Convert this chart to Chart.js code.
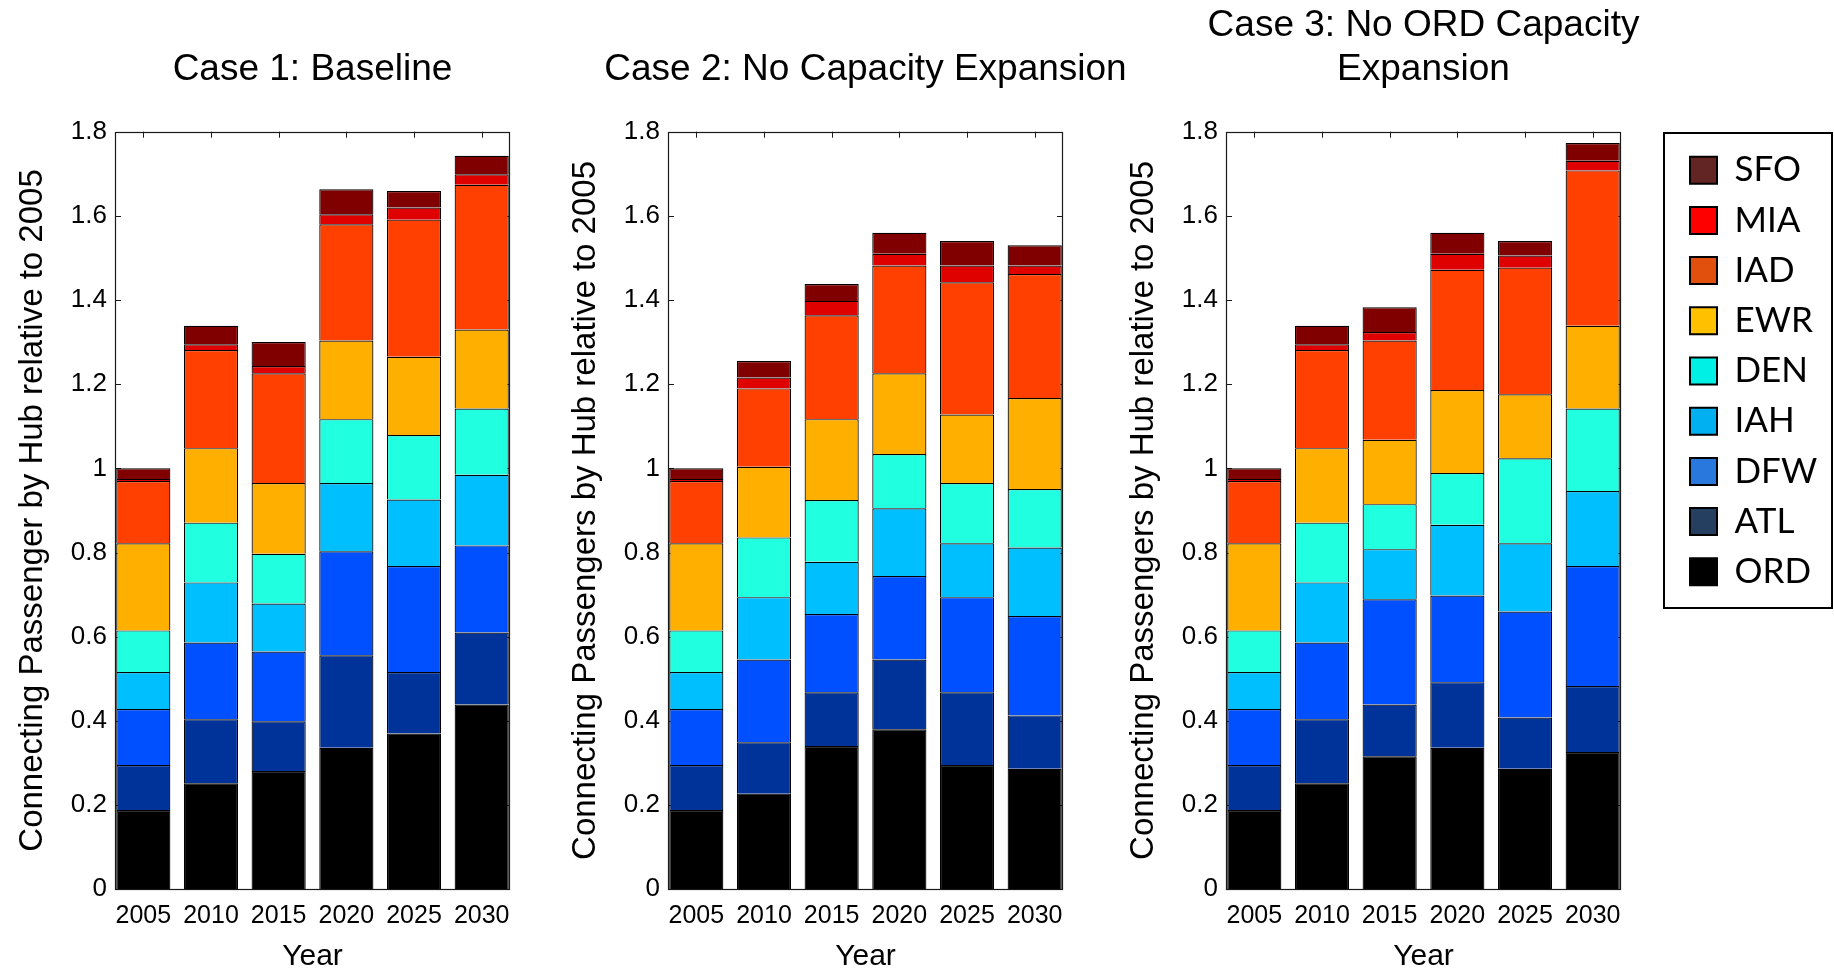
<!DOCTYPE html>
<html>
<head>
<meta charset="utf-8">
<title>Connecting passengers by hub</title>
<script src="https://cdn.jsdelivr.net/npm/chart.js@4.4.1/dist/chart.umd.min.js"></script>
<style>
  html, body { margin: 0; padding: 0; background: #fff; }
  body { width: 1834px; height: 970px; position: relative; overflow: hidden; }
  canvas { position: absolute; top: 0; }
</style>
</head>
<body>
<canvas id="case1" style="left:0px" width="625" height="970"></canvas>
<canvas id="case2" style="left:553px" width="625" height="970"></canvas>
<canvas id="case3" style="left:1111px" width="625" height="970"></canvas>
<canvas id="hubLegend" style="left:1663px; top:132px" width="170" height="477"></canvas>
<script>
// Categories and stack order (bottom to top)
const years = [2005, 2010, 2015, 2020, 2025, 2030];
const hubs = ['ORD', 'ATL', 'DFW', 'IAH', 'DEN', 'EWR', 'IAD', 'MIA', 'SFO'];

// Case 1: Baseline
const c1_ORD = [0.188, 0.252, 0.281, 0.336, 0.370, 0.439];
const c1_ATL = [0.107, 0.152, 0.118, 0.220, 0.146, 0.171];
const c1_DFW = [0.133, 0.182, 0.166, 0.247, 0.252, 0.207];
const c1_IAH = [0.088, 0.143, 0.114, 0.162, 0.158, 0.168];
const c1_DEN = [0.099, 0.142, 0.118, 0.152, 0.153, 0.157];
const c1_EWR = [0.207, 0.177, 0.168, 0.187, 0.186, 0.188];
const c1_IAD = [0.148, 0.233, 0.261, 0.276, 0.326, 0.344];
const c1_MIA = [0.005, 0.014, 0.017, 0.024, 0.029, 0.025];
const c1_SFO = [0.025, 0.044, 0.057, 0.059, 0.039, 0.044];

// Case 2: No capacity expansion
const c2_ORD = [0.188, 0.227, 0.340, 0.380, 0.295, 0.286];
const c2_ATL = [0.107, 0.122, 0.128, 0.166, 0.173, 0.127];
const c2_DFW = [0.133, 0.197, 0.186, 0.198, 0.226, 0.236];
const c2_IAH = [0.088, 0.148, 0.124, 0.161, 0.128, 0.163];
const c2_DEN = [0.099, 0.142, 0.147, 0.129, 0.143, 0.139];
const c2_EWR = [0.207, 0.168, 0.192, 0.192, 0.163, 0.216];
const c2_IAD = [0.148, 0.186, 0.247, 0.256, 0.314, 0.295];
const c2_MIA = [0.005, 0.026, 0.034, 0.028, 0.040, 0.020];
const c2_SFO = [0.025, 0.039, 0.040, 0.050, 0.058, 0.048];

// Case 3: No ORD capacity expansion
const c3_ORD = [0.188, 0.252, 0.316, 0.336, 0.286, 0.326];
const c3_ATL = [0.107, 0.152, 0.123, 0.156, 0.122, 0.157];
const c3_DFW = [0.133, 0.182, 0.250, 0.206, 0.252, 0.285];
const c3_IAH = [0.088, 0.143, 0.119, 0.168, 0.162, 0.178];
const c3_DEN = [0.099, 0.142, 0.107, 0.123, 0.202, 0.196];
const c3_EWR = [0.207, 0.177, 0.153, 0.197, 0.152, 0.197];
const c3_IAD = [0.148, 0.233, 0.236, 0.286, 0.301, 0.369];
const c3_MIA = [0.005, 0.014, 0.020, 0.038, 0.029, 0.023];
const c3_SFO = [0.025, 0.044, 0.059, 0.050, 0.034, 0.042];

const case1 = [c1_ORD, c1_ATL, c1_DFW, c1_IAH, c1_DEN, c1_EWR, c1_IAD, c1_MIA, c1_SFO];
const case2 = [c2_ORD, c2_ATL, c2_DFW, c2_IAH, c2_DEN, c2_EWR, c2_IAD, c2_MIA, c2_SFO];
const case3 = [c3_ORD, c3_ATL, c3_DFW, c3_IAH, c3_DEN, c3_EWR, c3_IAD, c3_MIA, c3_SFO];

// Bar fills and legend swatches
const barColors = ['#000000', '#00339A', '#0050FF', '#00BFFF', '#20FFDF', '#FFAF00', '#FF4000', '#DF0000', '#800000'];
const legendColors = ['#000000', '#243F60', '#2878DE', '#00B0F0', '#00F0E6', '#FFC000', '#E2500E', '#FF0000', '#632523'];

const panelTitles = ['Case 1: Baseline', 'Case 2: No Capacity Expansion', ['Case 3: No ORD Capacity', 'Expansion']];
const yTitles = ['Connecting Passenger by Hub relative to 2005',
                 'Connecting Passengers by Hub relative to 2005',
                 'Connecting Passengers by Hub relative to 2005'];

const FONT = 'Liberation Sans, Arial, sans-serif';

// Boxed axes with short inward tick marks on all four sides
const axesBox = {
  id: 'axesBox',
  beforeDatasetsDraw(chart) {
    const { ctx, chartArea: a, scales: { x, y } } = chart;
    const len = 6;
    ctx.save();
    ctx.strokeStyle = '#1a1a1a';
    ctx.lineWidth = 1;
    ctx.beginPath();
    y.ticks.forEach(t => {
      const py = Math.round(y.getPixelForValue(t.value)) + 0.5;
      ctx.moveTo(a.left, py); ctx.lineTo(a.left + len, py);
      ctx.moveTo(a.right - len, py); ctx.lineTo(a.right, py);
    });
    x.ticks.forEach(t => {
      const px = Math.round(x.getPixelForValue(t.value)) + 0.5;
      ctx.moveTo(px, a.top); ctx.lineTo(px, a.top + len);
      ctx.moveTo(px, a.bottom - len); ctx.lineTo(px, a.bottom);
    });
    ctx.stroke();
    ctx.lineWidth = 1.2;
    ctx.strokeRect(Math.round(a.left) + 0.5, Math.round(a.top) + 0.5,
                   Math.round(a.right - a.left) - 1, Math.round(a.bottom - a.top) - 1);
    ctx.restore();
  }
};

function makePanel(id, title, yTitle, series) {
  const lines = Array.isArray(title) ? title.length : 1;
  return new Chart(document.getElementById(id), {
    type: 'bar',
    data: {
      labels: years,
      datasets: hubs.map((h, i) => ({
        label: h,
        data: series[i],
        backgroundColor: barColors[i],
        borderColor: '#000',
        borderWidth: 1.2
      }))
    },
    options: {
      responsive: false,
      animation: false,
      events: [],
      layout: { padding: 0 },
      datasets: { bar: { barPercentage: 0.8, categoryPercentage: 1 } },
      plugins: {
        legend: { display: false },
        tooltip: { enabled: false },
        title: {
          display: true,
          text: title,
          fullSize: true,
          color: '#000',
          font: { family: FONT, size: 37, weight: 'normal', lineHeight: '44px' },
          padding: { top: 92 - 44 * lines, bottom: 39.7 }
        }
      },
      scales: {
        x: {
          type: 'linear',
          stacked: true,
          offset: false,
          min: 2002.91,
          max: 2032.09,
          grid: { display: false, drawTicks: false },
          border: { display: false },
          afterBuildTicks: s => { s.ticks = years.map(v => ({ value: v })); },
          afterFit: s => { s.height = 80.8; },
          ticks: {
            padding: 12, color: '#000', autoSkip: false, maxRotation: 0,
            font: { family: FONT, size: 25 },
            callback: v => String(v)
          },
          title: {
            display: true, text: 'Year', color: '#000',
            font: { family: FONT, size: 30, lineHeight: 0.9 },
            padding: { top: 0, bottom: 0 }
          }
        },
        y: {
          stacked: true,
          min: 0,
          max: 1.8,
          grid: { display: false, drawTicks: false },
          border: { display: false },
          afterFit: s => { s.width = 115; },
          ticks: {
            stepSize: 0.2, padding: 8, color: '#000',
            font: { family: FONT, size: 26 },
            callback: v => String(Math.round(v * 10) / 10)
          },
          title: {
            display: true, text: yTitle, color: '#000',
            font: { family: FONT, size: 33, lineHeight: 1.2 },
            padding: { top: 13.2, bottom: 0 }
          }
        },
        // blank right-hand margin that keeps the plot box centred under its title
        yRight: {
          position: 'right',
          grid: { display: false, drawTicks: false },
          border: { display: false },
          ticks: { display: false },
          afterFit: s => { s.width = 115; }
        }
      }
    },
    plugins: [axesBox]
  });
}

makePanel('case1', panelTitles[0], yTitles[0], case1);
makePanel('case2', panelTitles[1], yTitles[1], case2);
makePanel('case3', panelTitles[2], yTitles[2], case3);

// Shared hub legend in its own framed box
const legendFrame = {
  id: 'legendFrame',
  afterDraw(chart) {
    const { ctx, width, height } = chart;
    ctx.save();
    ctx.strokeStyle = '#000';
    ctx.lineWidth = 2;
    ctx.strokeRect(1, 1, width - 2, height - 2);
    ctx.restore();
  }
};

new Chart(document.getElementById('hubLegend'), {
  type: 'bar',
  data: {
    labels: [],
    datasets: hubs.map((h, i) => ({ label: h, data: [], backgroundColor: legendColors[i] }))
  },
  options: {
    responsive: false,
    animation: false,
    events: [],
    layout: { padding: { left: 11.8, top: 5.5, right: 0, bottom: 0 } },
    scales: { x: { display: false }, y: { display: false } },
    plugins: {
      tooltip: { enabled: false },
      legend: {
        position: 'left',
        align: 'start',
        reverse: true,
        maxWidth: 150,
        labels: {
          boxWidth: 27,
          boxHeight: 27,
          padding: 15.2,
          color: '#000',
          font: { family: 'Lato, Open Sans, sans-serif', size: 35 },
          generateLabels: chart => chart.data.datasets.map((d, i) => ({
            text: d.label,
            fillStyle: d.backgroundColor,
            strokeStyle: '#000',
            lineWidth: 2,
            hidden: false,
            datasetIndex: i
          }))
        }
      }
    }
  },
  plugins: [legendFrame]
});
</script>
</body>
</html>
